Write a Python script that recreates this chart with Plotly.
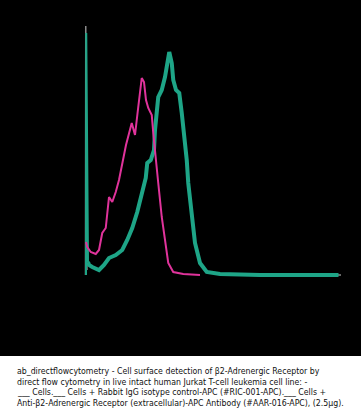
import plotly.graph_objects as go

# Fluorescence channel (x) and event counts (y)
unstained_x = [-2, -1, 0, 2, 4, None, 700, 1020]
unstained_y = [0, 249, 200, 30, 5, None, 0, 0]

isotype_x = [0, 5, 19, 39, 52, 65, 79, 92, 105, 119, 132, 145, 160, 183, 196, 209, 223, 232,
             240, 249, 263, 269, 280, 289, 303, 316, 329, 349, 389, 456]
isotype_y = [33, 28, 23, 21, 25, 42, 47, 78, 73, 83, 95, 110, 130, 152, 140, 168, 197, 193,
             175, 167, 160, 142, 118, 92, 58, 32, 12, 3, 1, 0]

antibody_x = [0, 1, 4, 6, 8, 12, 25, 39, 52, 72, 92, 119, 145, 165, 185, 205, 225, 239, 245,
              259, 272, 276, 289, 303, 316, 333, 343, 349, 360, 373, 383, 396, 403, 409, 423,
              436, 456, 483, 536, 696, 1010]
antibody_y = [0, 242, 145, 35, 13, 10, 8, 6, 5, 10, 17, 20, 25, 35, 47, 63, 82, 97, 112,
              115, 125, 145, 178, 185, 198, 223, 212, 195, 185, 182, 162, 132, 115, 92, 58,
              32, 12, 3, 1, 0, 0]

caption_lines = [
    "ab_directflowcytometry - Cell surface detection of β2-Adrenergic Receptor by",
    "direct flow cytometry in live intact human Jurkat T-cell leukemia cell line: -",
    "___ Cells.___ Cells + Rabbit IgG isotype control-APC (#RIC-001-APC).___ Cells +",
    "Anti-β2-Adrenergic Receptor (extracellular)-APC Antibody (#AAR-016-APC), (2.5µg).",
]

W, H = 361, 416
L, R, T, B = 76, 11, 18, 131
PH = H - T - B
PW = W - L - R

def py(p):
    return (H - B - p) / PH

def px(p):
    return (p - L) / PW

TEAL = "#1ea587"
fig = go.Figure()
fig.add_trace(go.Scatter(x=unstained_x, y=unstained_y, mode="lines",
                         line=dict(color="#8a8a8a", width=1.5), hoverinfo="skip"))
# first-channel spike is drawn thin, the main histogram thick
fig.add_trace(go.Scatter(x=antibody_x[:5], y=antibody_y[:5], mode="lines",
                         line=dict(color=TEAL, width=2), hoverinfo="skip"))
fig.add_trace(go.Scatter(x=antibody_x[4:], y=antibody_y[4:], mode="lines",
                         line=dict(color=TEAL, width=4), hoverinfo="skip"))
fig.add_trace(go.Scatter(x=isotype_x, y=isotype_y, mode="lines",
                         line=dict(color="#e0339b", width=2), hoverinfo="skip"))

fig.add_shape(type="rect", xref="paper", yref="paper", x0=-1, x1=2,
              y0=py(356), y1=py(430), fillcolor="white", line=dict(width=0), layer="below")

centers = [370.8, 381.6, 392.4, 403.2]
for txt, c in zip(caption_lines, centers):
    fig.add_annotation(text=txt, xref="paper", yref="paper", x=px(15), y=py(c),
                       xanchor="left", yanchor="middle", showarrow=False,
                       font=dict(family="Liberation Sans Narrow, DejaVu Sans Condensed, sans-serif",
                                 size=8.7, color="#111111"))

fig.update_layout(
    width=W, height=H, margin=dict(l=L, r=R, t=T, b=B, pad=0),
    paper_bgcolor="black", plot_bgcolor="black", showlegend=False,
    xaxis=dict(range=[(L - 86) * 4, (W - R - 86) * 4], visible=False, fixedrange=True),
    yaxis=dict(range=[275 - (H - B), 275 - T], visible=False, fixedrange=True),
)
fig.write_html("out.html", config={"displayModeBar": False})
